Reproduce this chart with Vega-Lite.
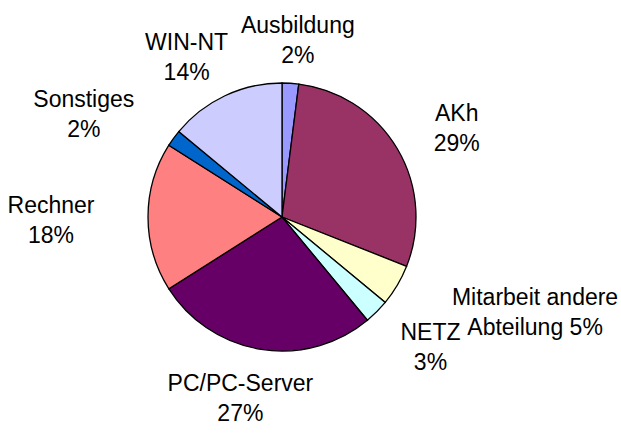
{
  "$schema": "https://vega.github.io/schema/vega-lite/v6.json",
  "width": 564,
  "height": 434,
  "autosize": {"type": "none"},
  "padding": {"left": 0, "top": 0, "right": 57, "bottom": 0},
  "background": "white",
  "config": {"view": {"stroke": null}},
  "data": {
    "values": [
      {"idx": 1, "category": "Ausbildung", "share": 2, "label": "Ausbildung\n2%"},
      {"idx": 2, "category": "AKh", "share": 29, "label": "AKh\n29%"},
      {"idx": 3, "category": "Mitarbeit andere Abteilung", "share": 5, "label": "Mitarbeit andere\nAbteilung 5%"},
      {"idx": 4, "category": "NETZ", "share": 3, "label": "NETZ\n3%"},
      {"idx": 5, "category": "PC/PC-Server", "share": 27, "label": "PC/PC-Server\n27%"},
      {"idx": 6, "category": "Rechner", "share": 18, "label": "Rechner\n18%"},
      {"idx": 7, "category": "Sonstiges", "share": 2, "label": "Sonstiges\n2%"},
      {"idx": 8, "category": "WIN-NT", "share": 14, "label": "WIN-NT\n14%"}
    ]
  },
  "encoding": {
    "theta": {"field": "share", "type": "quantitative", "stack": true},
    "order": {"field": "idx", "type": "quantitative"}
  },
  "layer": [
    {
      "mark": {"type": "arc", "radius": 134, "stroke": "black", "strokeWidth": 1.3},
      "encoding": {
        "color": {
          "field": "category",
          "type": "nominal",
          "legend": null,
          "scale": {
            "domain": ["Ausbildung", "AKh", "Mitarbeit andere Abteilung", "NETZ", "PC/PC-Server", "Rechner", "Sonstiges", "WIN-NT"],
            "range": ["#9999FF", "#993366", "#FFFFCC", "#CCFFFF", "#660066", "#FF8080", "#0066CC", "#CCCCFF"]
          }
        }
      }
    },
    {
      "mark": {
        "type": "text",
        "radius": 180,
        "font": "Liberation Sans",
        "fontSize": 23,
        "lineHeight": 30,
        "lineBreak": "\n",
        "align": "center",
        "baseline": "middle",
        "color": "black",
        "dy": -11,
        "dx": {"expr": "sin(PI*(datum.share_start+datum.share_end)/100)*(2+7*max(length(split(datum.label,'\\n')[0]),length(split(datum.label,'\\n')[1])))"}
      },
      "encoding": {
        "text": {"field": "label", "type": "nominal"}
      }
    }
  ]
}
